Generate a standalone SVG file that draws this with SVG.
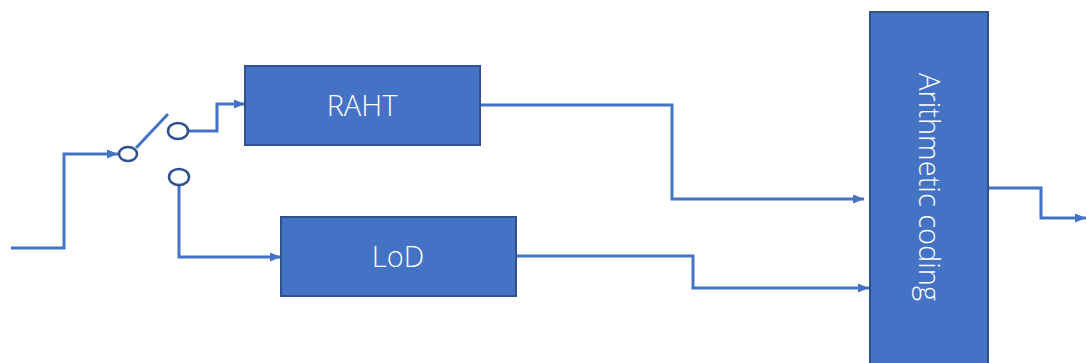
<svg xmlns="http://www.w3.org/2000/svg" width="1086" height="363" viewBox="0 0 1086 363">
<defs>
<marker id="ah" viewBox="0 0 10 10" refX="10" refY="5" markerWidth="11" markerHeight="11" markerUnits="userSpaceOnUse" orient="auto">
<path d="M0,1 L10,5 L0,9 Z" fill="#4472C4"/>
</marker>
<style>
.box{fill:#4472C4;stroke:#2F528F;stroke-width:2}
.lbl{fill:#ffffff;font-family:"Open Sans","Liberation Sans",sans-serif;font-size:29px;font-weight:300;text-anchor:middle}
.ln{fill:none;stroke:#4472C4;stroke-width:3}
.arr{marker-end:url(#ah)}
.sw{fill:#ffffff;stroke:#2F528F;stroke-width:2.5}
</style>
</defs>
<rect width="1086" height="363" fill="#ffffff"/>
<g id="connectors">
<path class="ln arr" d="M11,248 H64 V154 H118"/>
<line class="ln" x1="136" y1="148" x2="168" y2="114"/>
<path class="ln arr" d="M188,131 H217 V104 H245"/>
<path class="ln arr" d="M179,185 V257 H281"/>
<path class="ln arr" d="M480,105 H672 V199 H864"/>
<path class="ln arr" d="M517,256 H693 V288 H869"/>
<path class="ln arr" d="M988,188 H1041 V218 H1086"/>
</g>
<g id="switch">
<ellipse class="sw" cx="128" cy="154" rx="9" ry="7"/>
<ellipse class="sw" cx="178" cy="131" rx="10" ry="8"/>
<ellipse class="sw" cx="179" cy="177" rx="10" ry="8"/>
</g>
<g id="raht">
<rect class="box" x="245" y="66" width="235" height="79"/>
<text class="lbl" x="362" y="116">RAHT</text>
</g>
<g id="lod">
<rect class="box" x="281" y="217" width="235" height="79"/>
<text class="lbl" x="398" y="267">LoD</text>
</g>
<g id="arith">
<rect class="box" x="870" y="12" width="118" height="360"/>
<text class="lbl" transform="translate(929,187) rotate(90)" x="0" y="10">Arithmetic coding</text>
</g>
</svg>
